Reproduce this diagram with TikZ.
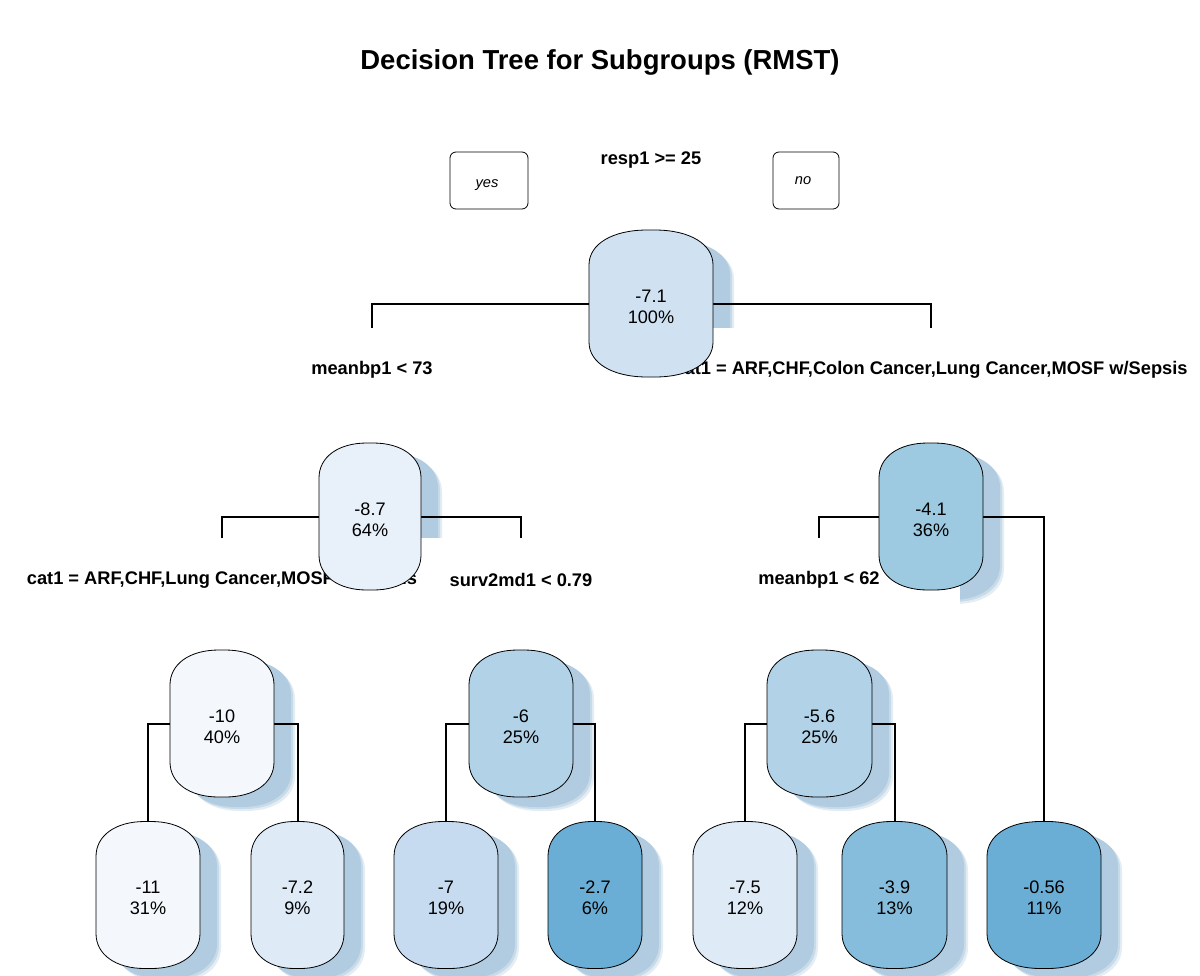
\documentclass[tikz,border=0pt]{standalone}
\usepackage{fontspec}
\setmainfont{Liberation Sans}
\pgfdeclarelayer{bgl}
\pgfdeclarelayer{shadowl}
\pgfdeclarelayer{boxl}
\pgfdeclarelayer{linel}
\pgfsetlayers{bgl,shadowl,boxl,linel,main}
\definecolor{shd}{HTML}{B1CCE0}
\definecolor{cA}{HTML}{D0E2F2}
\definecolor{cB}{HTML}{E8F1FA}
\definecolor{cC}{HTML}{9DCAE1}
\definecolor{cD}{HTML}{F4F8FD}
\definecolor{cE}{HTML}{B2D2E8}
\definecolor{cF}{HTML}{DEEAF6}
\definecolor{cG}{HTML}{C6DBEF}
\definecolor{cH}{HTML}{6AADD5}
\definecolor{cI}{HTML}{86BCDC}
\newcommand\bubshape[5]{%
 \pgfmathsetmacro\bL{#1-(#3)/2}\pgfmathsetmacro\bR{#1+(#3)/2}%
 \pgfmathsetmacro\bT{#2-(#4)/2}\pgfmathsetmacro\bB{#2+(#4)/2}%
 \pgfmathsetmacro\brx{0.47*(#3)}\pgfmathsetmacro\bry{35}%
 \pgfmathsetmacro\bcx{0.4*\brx}\pgfmathsetmacro\bcy{0.4*\bry}%
 \path[#5] (\bL,\bT+\bry) .. controls (\bL,\bT+\bcy) and (\bL+\bcx,\bT) .. (\bL+\brx,\bT)
   -- (\bR-\brx,\bT) .. controls (\bR-\bcx,\bT) and (\bR,\bT+\bcy) .. (\bR,\bT+\bry)
   -- (\bR,\bB-\bry) .. controls (\bR,\bB-\bcy) and (\bR-\bcx,\bB) .. (\bR-\brx,\bB)
   -- (\bL+\brx,\bB) .. controls (\bL+\bcx,\bB) and (\bL,\bB-\bcy) .. (\bL,\bB-\bry) -- cycle;
}
\newcommand\bubble[7]{%
 \begin{pgfonlayer}{shadowl}
  \bubshape{#2+21}{#3+14}{#4}{147}{fill=shd!35}
  \bubshape{#2+19}{#3+12}{#4}{147}{fill=shd!70}
  \bubshape{#2+17}{#3+10}{#4}{147}{fill=shd}
 \end{pgfonlayer}
 \bubshape{#2}{#3}{#4}{147}{fill=#5,draw=black,line width=0.6pt}
 \node[bubanchor, minimum width={#4*0.75pt}] (#1) at (#2,#3) {};
 \node[bubtext] (#1t) at (#2,#3+3) {#6\\#7};
}
\tikzset{
 bubanchor/.style={inner sep=0pt, minimum height={147*0.75pt}},
 bubtext/.style={inner sep=0pt, align=center,
   font=\fontsize{13.6}{15.75}\selectfont},
 lbl/.style={inner sep=0pt, font=\fontsize{13.7}{16}\selectfont\bfseries},
 ynbox/.style={draw, line width=0.6pt, rounded corners=4.5pt, inner sep=0pt},
 yntext/.style={inner sep=0pt, font=\fontsize{11}{13}\selectfont\itshape},
 conn/.style={line width=1.5pt},
 ttl/.style={inner sep=0pt, font=\fontsize{20.6}{24}\selectfont\bfseries}
}
\begin{document}
\begin{tikzpicture}[x=0.75pt,y=-0.75pt]
\begin{pgfonlayer}{bgl}
\fill[white] (0,0) rectangle (1200,975);
\end{pgfonlayer}
\useasboundingbox (0,0) rectangle (1200,975);
\node[ttl] (title) at (600,62) {Decision Tree for Subgroups (RMST)};
% nodes
\bubble{n71}{651}{303.5}{124}{cA}{-7.1}{100\%}
\bubble{n87}{370}{516.5}{102}{cB}{-8.7}{64\%}
\bubble{n41}{931}{516.5}{104}{cC}{-4.1}{36\%}
\bubble{n10}{222}{723.5}{104}{cD}{-10}{40\%}
\bubble{n6}{521}{723.5}{104}{cE}{-6}{25\%}
\bubble{n56}{819.5}{723.5}{105}{cE}{-5.6}{25\%}
\bubble{n11}{148}{895}{104}{cD}{-11}{31\%}
\bubble{n72}{297.5}{895}{93}{cF}{-7.2}{9\%}
\bubble{n7}{446}{895}{104}{cG}{-7}{19\%}
\bubble{n27}{595}{895}{94}{cH}{-2.7}{6\%}
\bubble{n75}{745}{895}{104}{cF}{-7.5}{12\%}
\bubble{n39}{894.5}{895}{105}{cI}{-3.9}{13\%}
\bubble{n056}{1044}{895}{114}{cH}{-0.56}{11\%}
% white label boxes clipping shadows
\begin{pgfonlayer}{boxl}
 \fill[white] (200,328) rectangle (1200,412);
 \fill[white] (0,538) rectangle (662,622);
 \fill[white] (678,538) rectangle (960,622);
\end{pgfonlayer}
% connectors and split labels
\begin{pgfonlayer}{linel}
 \coordinate (c1) at (372,328);
 \coordinate (c2) at (931,328);
 \coordinate (c3) at (222,538);
 \coordinate (c4) at (521,538);
 \coordinate (c5) at (819,538);
 \draw[conn] (n71.center) -| (c1);
 \draw[conn] (n71.center) -| (c2);
 \draw[conn] (n87.center) -| (c3);
 \draw[conn] (n87.center) -| (c4);
 \draw[conn] (n41.center) -| (c5);
 \draw[conn] (n41.center) -| (n056.north);
 \draw[conn] (n10.center) -| (n11.north);
 \draw[conn] (n10.center) -| (n72.north);
 \draw[conn] (n6.center) -| (n7.north);
 \draw[conn] (n6.center) -| (n27.north);
 \draw[conn] (n56.center) -| (n75.north);
 \draw[conn] (n56.center) -| (n39.north);
 \node[lbl] (s1) at (651,160) {resp1 >= 25};
 \node[lbl] (s2) at (372,370) {meanbp1 < 73};
 \node[lbl] (s3) at (931,370) {cat1 = ARF,CHF,Colon Cancer,Lung Cancer,MOSF w/Sepsis};
 \node[lbl] (s4) at (222,580) {cat1 = ARF,CHF,Lung Cancer,MOSF w/Sepsis};
 \node[lbl] (s5) at (521,580) {surv2md1 < 0.79};
 \node[lbl] (s6) at (819,580) {meanbp1 < 62};
\end{pgfonlayer}
\node[ynbox, minimum width={78*0.75pt}, minimum height={57*0.75pt}] (yes) at (489,180.5) {};
\node[yntext] (yest) at (487,185) {yes};
\node[ynbox, minimum width={66*0.75pt}, minimum height={57*0.75pt}] (no) at (806,180.5) {};
\node[yntext] (not) at (803,181) {no};
\end{tikzpicture}
\end{document}
